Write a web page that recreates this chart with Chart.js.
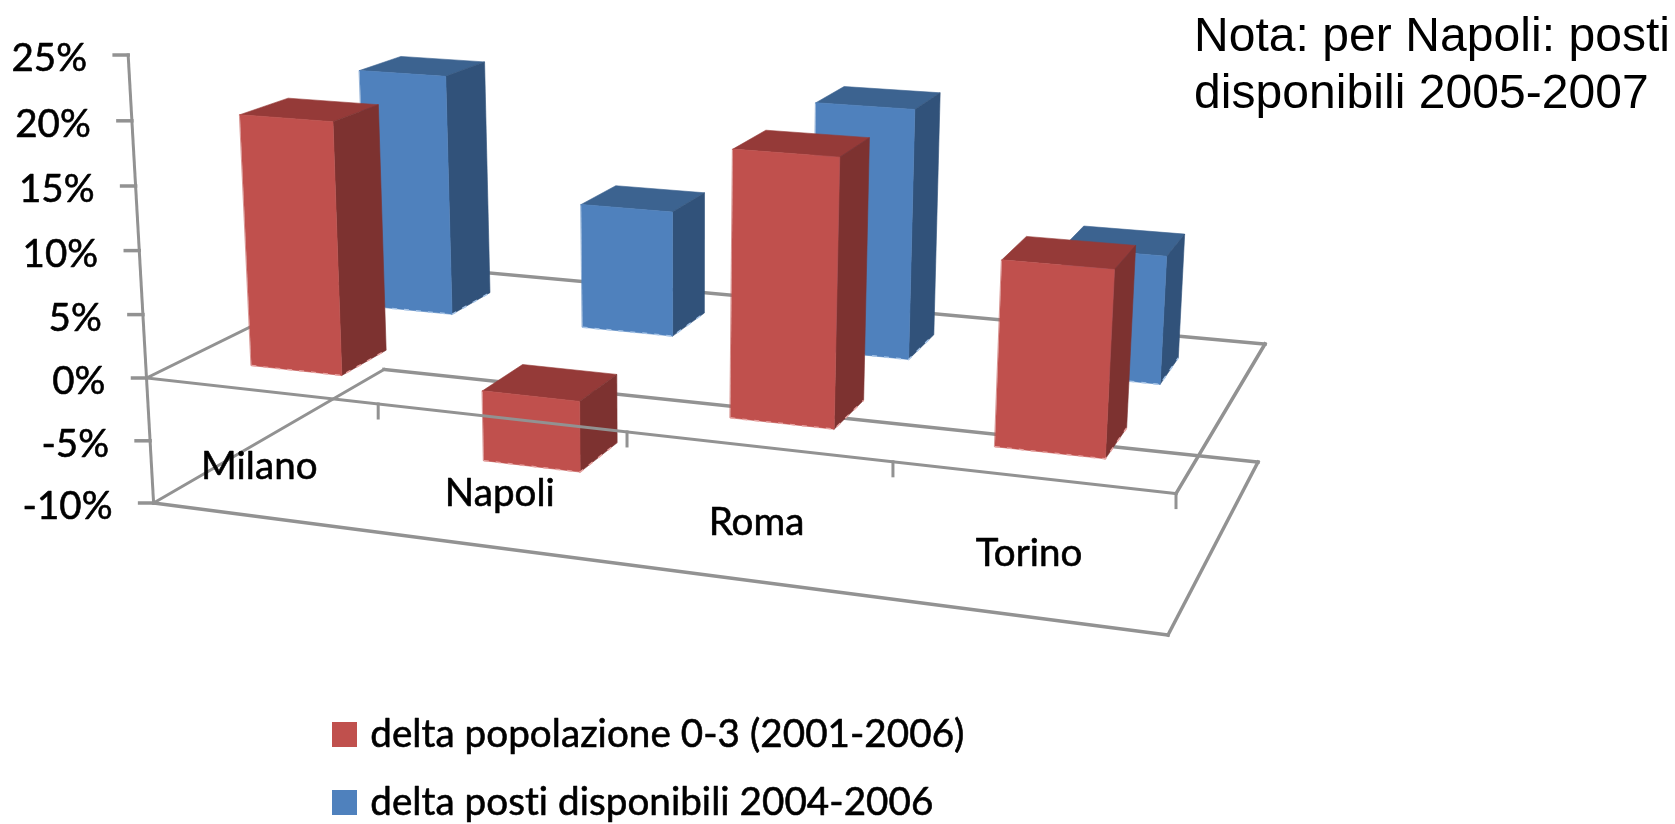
<!DOCTYPE html>
<html>
<head>
<meta charset="utf-8">
<style>html,body{margin:0;padding:0;background:#fff;overflow:hidden}#w{width:1675px;height:824px;position:relative}</style>
<script src="https://cdn.jsdelivr.net/npm/chart.js@4"></script>
</head>
<body>
<div id="w"><canvas id="c"></canvas></div>
<script>
const categories = ['Milano', 'Napoli', 'Roma', 'Torino'];
const seriesRedName = 'delta popolazione 0-3 (2001-2006)';
const seriesBlueName = 'delta posti disponibili 2004-2006';
const seriesRed = [19.85, -5.5, 20.05, 13.6];
const seriesBlue = [20.2, 10.35, 20.1, 10.1];
const noteLines = ['Nota: per Napoli: posti', 'disponibili 2005-2007'];

// 3-D look of the frame: corners of the value planes 0% and -10%
const plane0 = {fl:[146.5,378], fr:[1176,493.6], bl:[380,263], br:[1265,344]};
const planeM = {fl:[153.6,503], fr:[1168,635], bl:[384,369.5], br:[1258,462]};
const depthRows = [[0.17,0.38],[0.68,0.86]];
const rowShift = [-0.001,0.002];
const faces = [
  {front:'#C0504D', top:'#953A38', side:'#7D3230', edge:'#E8A5A3'},
  {front:'#4F81BD', top:'#3C6390', side:'#31527A', edge:'#A9C6E8'}
];
const frameColor = '#929292';
const labelFont = '38.5px Lato';
const K = 0.00095;

function mix(a,b,k){return [a[0]+(b[0]-a[0])*k, a[1]+(b[1]-a[1])*k];}
function onPlane(p,u,d){return mix(mix(p.fl,p.fr,u), mix(p.bl,p.br,u), d);}
function persp(t){return t*(0.867+0.133*t);}
function vFactor(v){return -(v/10)*(1+K*v)/(1-10*K);}
function proj(t,d,v){
  const u=persp(t), a=onPlane(plane0,u,d), b=onPlane(planeM,u,d), g=vFactor(v);
  return [a[0]+(b[0]-a[0])*g, a[1]+(b[1]-a[1])*g];
}
function poly(ctx,pts,fill){
  ctx.beginPath();ctx.moveTo(pts[0][0],pts[0][1]);
  for(let i=1;i<pts.length;i++)ctx.lineTo(pts[i][0],pts[i][1]);
  ctx.closePath();ctx.fillStyle=fill;ctx.fill();
  ctx.strokeStyle=fill;ctx.lineWidth=0.6;ctx.stroke();
}
function line(ctx,a,b,w){
  ctx.beginPath();ctx.moveTo(a[0],a[1]);ctx.lineTo(b[0],b[1]);
  ctx.lineWidth=w;ctx.strokeStyle=frameColor;ctx.stroke();
}
function heavyText(ctx,s,x,y){
  ctx.lineWidth=0.6;ctx.lineJoin='round';ctx.strokeStyle='#000';
  ctx.fillStyle='#000';
  ctx.strokeText(s,x,y);ctx.fillText(s,x,y);
}
function swatch(color){
  const c=document.createElement('canvas');c.width=25;c.height=25;
  const g=c.getContext('2d');g.fillStyle=color;g.fillRect(0,0,25,25);
  return c;
}

const frame3d = {
  id:'frame3d',
  afterLayout(chart){
    const l=chart.legend;
    l.left=308.6; l.right=1100; l.top=686; l.bottom=920;
  },
  beforeDraw(chart){
    // legend text gets the same weight as the other labels; no ligatures
    const ctx=chart.ctx, orig=ctx.fillText;
    ctx.letterSpacing='0.05px';
    ctx.fillText=function(s,x,y){
      ctx.lineWidth=0.6;ctx.lineJoin='round';ctx.strokeStyle='#000';
      ctx.strokeText(s,x,y);orig.call(ctx,s,x,y);
    };
  },
  beforeDatasetsDraw(chart){
    const {ctx,chartArea:A,scales:{x,y}}=chart;
    delete ctx.fillText;
    const T=p=>(p-A.left)/A.width;
    const V=p=>y.getValueForPixel(p);
    ctx.save();
    ctx.lineCap='square';
    // frame behind the bars
    const vMin=y.min,vMax=y.max;
    line(ctx,proj(0,0,vMin),proj(0,1,vMin),3);
    line(ctx,proj(0,1,vMin),proj(1,1,vMin),3.5);
    line(ctx,proj(0,0,0),proj(0,1,0),3);
    line(ctx,proj(0,1,0),proj(1,1,0),3.5);
    // bars, back row first
    for(const ds of [1,0]){
      const meta=chart.getDatasetMeta(ds), st=faces[ds], [d0,d1]=depthRows[ds];
      meta.data.forEach(el=>{
        const p=el.getProps(['x','y','base','width'],true);
        const t0=T(p.x-p.width/2)+rowShift[ds], t1=T(p.x+p.width/2)+rowShift[ds];
        const hi=V(Math.min(p.y,p.base)), lo=V(Math.max(p.y,p.base));
        poly(ctx,[proj(t0,d0,hi),proj(t0,d1,hi),proj(t1,d1,hi),proj(t1,d0,hi)],st.top);
        poly(ctx,[proj(t1,d0,hi),proj(t1,d1,hi),proj(t1,d1,lo),proj(t1,d0,lo)],st.side);
        poly(ctx,[proj(t0,d0,hi),proj(t1,d0,hi),proj(t1,d0,lo),proj(t0,d0,lo)],st.front);
        ctx.save();
        ctx.setLineDash([5,7]);ctx.lineCap='butt';ctx.lineWidth=1.5;ctx.strokeStyle=st.edge;
        ctx.beginPath();
        let a=proj(t0,d0,lo),b=proj(t1,d0,lo),c=proj(t1,d1,lo);
        ctx.moveTo(a[0],a[1]);ctx.lineTo(b[0],b[1]);ctx.lineTo(c[0],c[1]);ctx.stroke();
        ctx.restore();
      });
    }
    // frame in front of the bars
    line(ctx,proj(0,0,0),proj(1,0,0),3);
    line(ctx,proj(0,0,vMin),proj(1,0,vMin),3.5);
    line(ctx,proj(1,0,0),proj(1,1,0),3.5);
    line(ctx,proj(1,0,vMin),proj(1,1,vMin),3.5);
    line(ctx,proj(0,0,vMin),proj(0,0,vMax),3);
    // value axis ticks and labels
    ctx.font=labelFont;ctx.textAlign='right';ctx.textBaseline='middle';
    y.ticks.forEach(tk=>{
      const p=proj(0,0,tk.value);
      line(ctx,[p[0]-14,p[1]],p,3.5);
      heavyText(ctx,tk.label,p[0]-41,p[1]+4);
    });
    // category ticks and labels
    const half=x.getPixelForTick(1)-x.getPixelForTick(0);
    ctx.textAlign='center';
    categories.forEach((name,i)=>{
      const px=x.getPixelForTick(i);
      const e=proj(T(px+half/2),0,0);
      line(ctx,e,[e[0],e[1]+14],3);
      const tc=T(px), lp=proj(tc,0.06*persp(tc),-5.8);
      heavyText(ctx,name,lp[0]-5.5,lp[1]+3);
    });
    // note
    ctx.font='48px "Liberation Sans"';ctx.textAlign='left';ctx.textBaseline='alphabetic';ctx.fillStyle='#000';
    noteLines.forEach((s,i)=>ctx.fillText(s,1194,51+57*i));
    ctx.restore();
    return false;
  }
};

new Chart(document.getElementById('c'),{
  type:'bar',
  data:{labels:categories,datasets:[
    {label:seriesRedName,data:seriesRed,backgroundColor:faces[0].front,grouped:false,barPercentage:0.4,categoryPercentage:1},
    {label:seriesBlueName,data:seriesBlue,backgroundColor:faces[1].front,grouped:false,barPercentage:0.4,categoryPercentage:1}
  ]},
  options:{
    responsive:true,maintainAspectRatio:false,animation:false,
    layout:{padding:{left:146.5,right:499,top:55,bottom:321}},
    scales:{
      x:{grid:{display:false},border:{display:false},ticks:{display:false}},
      y:{min:-10,max:25,grid:{display:false},border:{display:false},
         ticks:{display:false,stepSize:5,callback:v=>v+'%'}}
    },
    plugins:{
      tooltip:{enabled:false},
      legend:{position:'chartArea',align:'start',
        labels:{usePointStyle:true,pointStyleWidth:13,boxHeight:25,padding:29.4,color:'#000',
          font:{family:'Lato',size:38.6},
          generateLabels(chart){
            const items=Chart.defaults.plugins.legend.labels.generateLabels(chart);
            items.forEach((it,i)=>{it.pointStyle=swatch(faces[i].front);});
            return items;
          }}}
    }
  },
  plugins:[frame3d]
});
</script>
</body>
</html>
